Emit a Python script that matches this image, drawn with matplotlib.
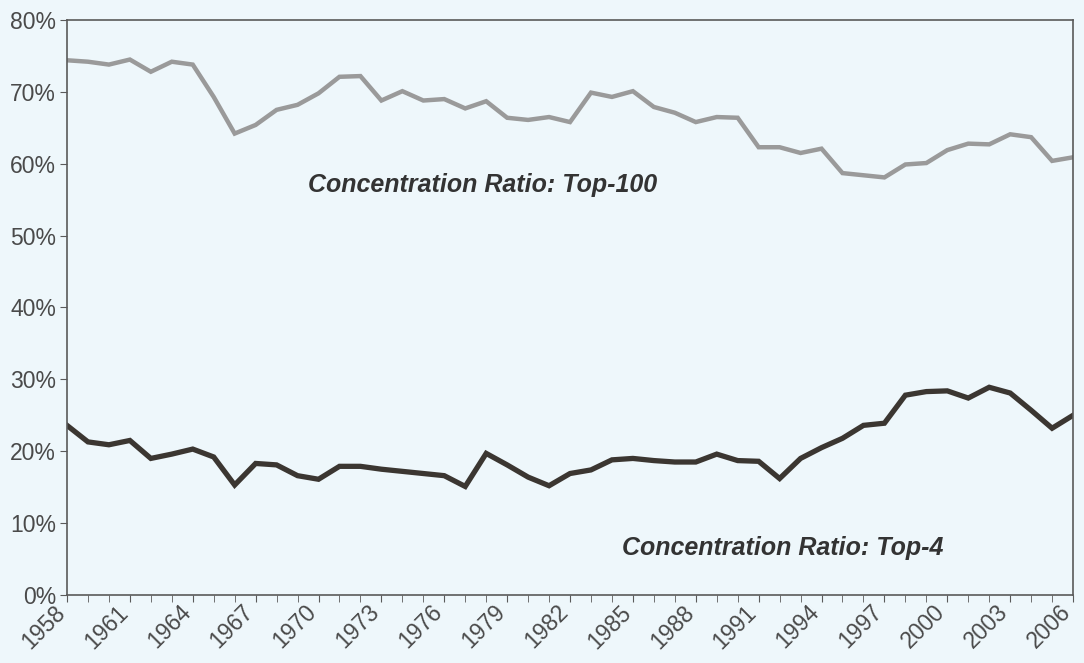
import matplotlib.pyplot as plt
from matplotlib.ticker import FuncFormatter, MultipleLocator
from matplotlib.transforms import ScaledTranslation

# Years and concentration ratios (percent)
years = list(range(1958, 2007))

top100 = [74.4, 74.2, 73.8, 74.5, 72.8, 74.2, 73.8, 69.3, 64.2, 65.4,
          67.5, 68.2, 69.8, 72.1, 72.2, 68.8, 70.1, 68.8, 69.0, 67.7,
          68.7, 66.4, 66.1, 66.5, 65.8, 69.9, 69.3, 70.1, 67.9, 67.1,
          65.8, 66.5, 66.4, 62.3, 62.3, 61.5, 62.1, 58.7, 58.4, 58.1,
          59.9, 60.1, 61.9, 62.8, 62.7, 64.1, 63.7, 60.4, 60.9]

top4 = [23.6, 21.3, 20.9, 21.5, 19.0, 19.6, 20.3, 19.2, 15.3, 18.3,
        18.1, 16.6, 16.1, 17.9, 17.9, 17.5, 17.2, 16.9, 16.6, 15.1,
        19.7, 18.1, 16.4, 15.2, 16.9, 17.4, 18.8, 19.0, 18.7, 18.5,
        18.5, 19.6, 18.7, 18.6, 16.2, 19.0, 20.5, 21.8, 23.6, 23.9,
        27.8, 28.3, 28.4, 27.4, 28.9, 28.1, 25.7, 23.2, 25.0]

year_labels = list(range(1958, 2007, 3))

label_top100 = "Concentration Ratio: Top-100"
label_top4 = "Concentration Ratio: Top-4"

bg = "#eef7fb"
axis_col = "#5a5a5a"
plt.rcParams['font.family'] = ['Liberation Sans', 'DejaVu Sans']

fig = plt.figure(figsize=(10.84, 6.63), dpi=100, facecolor=bg)
ax = fig.add_axes([0.0618, 0.1026, 0.9281, 0.8672])
ax.set_facecolor(bg)

#Plot both series
ax.plot(years, top100, color="#9a9a9a", linewidth=3.2, solid_joinstyle="miter")
ax.plot(years, top4, color="#3b3631", linewidth=3.8, solid_joinstyle="miter")

ax.set_xlim(1958, 2006)
ax.set_ylim(0, 80)

#Axis ticks and labels
ax.yaxis.set_major_locator(MultipleLocator(10))
ax.yaxis.set_major_formatter(FuncFormatter(lambda v, p: f"{v:.0f}%"))
ax.set_xticks(year_labels)
ax.set_xticks(years, minor=True)
ax.set_xticklabels([str(y) for y in year_labels], rotation=45,
                   ha="right", va="center", rotation_mode="anchor")
ax.tick_params(axis="x", which="both", direction="out", length=5,
               color=axis_col, labelsize=16.5, labelcolor="#4a4a4a", pad=5)
ax.tick_params(axis="y", direction="out", length=5, color=axis_col,
               labelsize=16.5, labelcolor="#4a4a4a", pad=3)

#nudge year labels a little left so the last one stays inside
shift = ScaledTranslation(-4 / 72, 0, fig.dpi_scale_trans)
for lab in ax.get_xticklabels():
    lab.set_transform(lab.get_transform() + shift)

for s in ax.spines.values():
    s.set_color(axis_col)
    s.set_linewidth(1.2)

#Series labels
ax.text(1969.5, 57.0, label_top100, fontsize=18, fontweight="bold",
        fontstyle="italic", color="#333333", va="center")
ax.text(1984.5, 6.6, label_top4, fontsize=18, fontweight="bold",
        fontstyle="italic", color="#333333", va="center")

fig.savefig("out.png", dpi=100, facecolor=bg)
